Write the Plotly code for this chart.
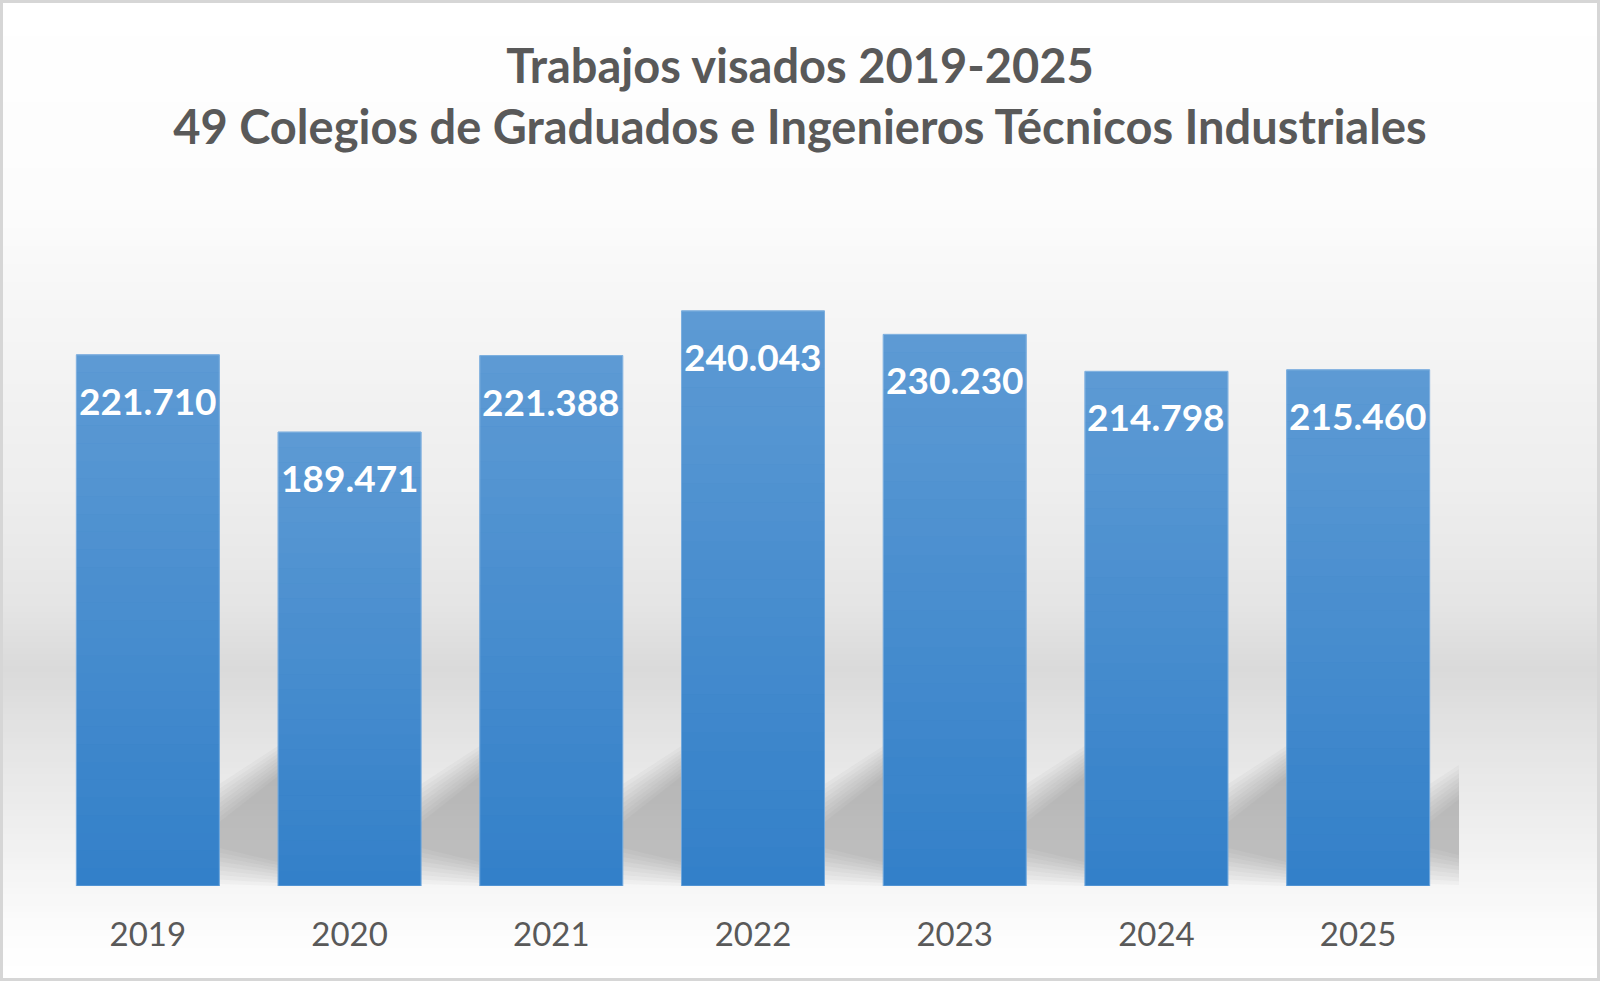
import plotly.graph_objects as go

# Trabajos visados por año (49 colegios)
years = ['2019', '2020', '2021', '2022', '2023', '2024', '2025']
visados = [221710, 189471, 221388, 240043, 230230, 214798, 215460]

title_l1 = 'Trabajos visados 2019-2025'
title_l2 = '49 Colegios de Graduados e Ingenieros Técnicos Industriales'

W, H = 1600, 981
M_L, M_R, M_T, M_B = 47, 141, 287, 95
PW, PH = W - M_L - M_R, H - M_T - M_B
Y_MAX = 250000
BAR_GAP = 0.291
u = Y_MAX / PH   # data units per pixel

GREY_TXT = '#595959'
BAR_BOTTOM = '#3380c9'


def es_num(v):
    return f'{v:,}'.replace(',', '.')


def px_x(x):   # figure pixel -> paper x
    return (x - M_L) / PW


def px_y(y):   # figure pixel (from top) -> paper y
    return (H - M_B - y) / PH


def lerp(a, b, t):
    return a + (b - a) * t


def lerp_grey(stops, y):
    for (y0, g0), (y1, g1) in zip(stops, stops[1:]):
        if y0 <= y <= y1:
            return round(lerp(g0, g1, (y - y0) / (y1 - y0)))
    return stops[-1][1]


shapes = []

# background gradient (white -> grey band -> white), drawn as thin strips
bg_stops = [(0, 255), (200, 252), (330, 245), (500, 237), (600, 229), (670, 218),
            (740, 228), (830, 239), (900, 248), (950, 254), (981, 255)]
step = 6
for y in range(0, H, step):
    g = lerp_grey(bg_stops, y + step / 2)
    shapes.append(dict(type='rect', xref='paper', yref='paper', layer='below',
                       x0=px_x(0), x1=px_x(W), y0=px_y(y + step + 0.5), y1=px_y(y),
                       fillcolor=f'rgb({g},{g},{g})', line=dict(width=0)))

# soft shadows to the right of every bar: stacked translucent layers, outer -> inner
half = (1 - BAR_GAP) / 2
outer = dict(lo_l=2, hi_l=102, lo_r=0, hi_r=140)
inner = dict(lo_l=38, hi_l=64, lo_r=24, hi_r=110)
n_sh = 9
for i, v in enumerate(visados):
    xr = i + half
    xn = i + 1 - half
    xe = min(xn, len(years) - 0.5)
    f = (xe - xr) / (xn - xr)
    for k in range(n_sh):
        t = k / (n_sh - 1)
        p = {key: lerp(outer[key], inner[key], t) for key in outer}
        lo_e = lerp(p['lo_l'], p['lo_r'], f)
        hi_e = lerp(p['hi_l'], p['hi_r'], f)
        path = (f"M {xr},{p['lo_l']*u} L {xr},{p['hi_l']*u} L {xe},{hi_e*u} "
                f"L {xe},{lo_e*u} Z")
        shapes.append(dict(type='path', xref='x', yref='y', layer='below', path=path,
                           fillcolor='rgba(100,100,100,0.042)', line=dict(width=0)))

# light-to-dark vertical gradient on each bar
n_band = 30
for i, v in enumerate(visados):
    for k in range(n_band):
        a = 0.21 * (k + 0.5) / n_band
        shapes.append(dict(type='rect', xref='x', yref='y', layer='above',
                           x0=i - half, x1=i + half,
                           y0=v * k / n_band, y1=v * (k + 1) / n_band,
                           fillcolor=f'rgba(255,255,255,{a:.3f})', line=dict(width=0)))

# outer border of the chart
shapes.append(dict(type='rect', xref='paper', yref='paper', layer='above',
                   x0=px_x(1.5), x1=px_x(W - 1.5), y0=px_y(H - 1.5), y1=px_y(1.5),
                   line=dict(color='#d6d6d6', width=3)))

fig = go.Figure()
fig.add_bar(
    x=list(range(len(years))), y=visados,
    marker=dict(color=BAR_BOTTOM, line=dict(color='#6ea6dc', width=1)),
    hovertemplate='%{y:,}<extra></extra>',
)

annotations = []
for i, v in enumerate(visados):
    annotations.append(dict(x=i, y=v, xref='x', yref='y', text=es_num(v),
                            showarrow=False, yanchor='top', yshift=-21,
                            font=dict(family='Lato', size=37, color='white', weight='bold')))

fig.update_layout(
    width=W, height=H,
    margin=dict(l=M_L, r=M_R, t=M_T, b=M_B),
    paper_bgcolor='white', plot_bgcolor='rgba(0,0,0,0)',
    title=dict(text=f'<b>{title_l1}</b><br><b>{title_l2}</b>',
               x=0.5, xanchor='center', xref='container',
               y=1 - 83 / H, yanchor='top', yref='container',
               font=dict(family='Lato', size=47, color=GREY_TXT)),
    bargap=BAR_GAP,
    showlegend=False,
    xaxis=dict(tickmode='array', tickvals=list(range(len(years))), ticktext=years,
               range=[-0.5, len(years) - 0.5], showgrid=False, zeroline=False,
               showline=False, ticks='outside', ticklen=19,
               tickcolor='rgba(0,0,0,0)',
               tickfont=dict(family='Lato', size=33, color=GREY_TXT)),
    yaxis=dict(range=[0, Y_MAX], visible=False, showgrid=False),
    shapes=shapes,
    annotations=annotations,
)

fig.write_html('out.html', config={'displayModeBar': False},
               post_script="document.body.style.margin='0';")
